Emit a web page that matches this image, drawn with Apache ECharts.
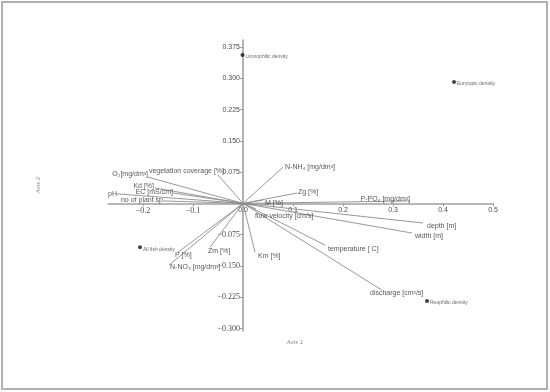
<!DOCTYPE html>
<html><head><meta charset="utf-8">
<script src="https://cdn.jsdelivr.net/npm/echarts@6/dist/echarts.min.js"></script>
<style>html,body{margin:0;padding:0;background:#fff}#c{width:550px;height:392px}</style>
</head><body><div id="c"></div>
<script>
// ---- data ----
const vectorNames = ['vegetation coverage [%]','O₂[mg/dm³]','Kd [%]','EC [mS/cm]','pH','no of plant sp',
  'N-NH₄ [mg/dm³]','Zg [%]','P-PO₄ [mg/dm³]','M [%]','flow velocity [cm/s]','depth [m]','width [m]',
  'temperature [ C]','discharge [cm³/s]','Km [%]','Zm [%]','P [%]','N-NO₃ [mg/dm³]'];
const vectorX = [-0.050,-0.190,-0.176,-0.140,-0.252,-0.160,0.080,0.108,0.334,0.040,0.026,0.360,0.338,0.164,0.278,0.024,-0.066,-0.130,-0.148];
const vectorY = [0.068,0.063,0.037,0.025,0.023,0.006,0.087,0.025,0.006,0.008,-0.013,-0.047,-0.071,-0.100,-0.208,-0.117,-0.105,-0.117,-0.148];
const pointNames = ['Limnophilic density','Eurytopic density','All fish density','Reophilic density'];
const pointX = [-0.001,0.422,-0.206,0.368];
const pointY = [0.356,0.291,-0.105,-0.234];
const xTicks = [-0.2,-0.1,0,0.1,0.2,0.3,0.4,0.5];
const yTicks = [-0.3,-0.225,-0.15,-0.075,0.075,0.15,0.225,0.3,0.375];

// ---- label placement (style only) ----
const place = {
  'vegetation coverage [%]':['right',6,-4],
  'O₂[mg/dm³]':['right',0,-3],
  'Kd [%]':['right',-1,-2],
  'EC [mS/cm]':['right',0,-1],
  'pH':['right',0,0],
  'no of plant sp':['right',0,-1],
  'N-NH₄ [mg/dm³]':['left',2,0],
  'Zg [%]':['left',1,-1],
  'P-PO₄ [mg/dm³]':['right',0,-2],
  'M [%]':['left',2,3],
  'flow velocity [cm/s]':['left',-1,7],
  'depth [m]':['left',4,3],
  'width [m]':['left',3,3],
  'temperature [ C]':['left',3,4],
  'discharge [cm³/s]':['left',-12,3],
  'Km [%]':['left',3,4],
  'Zm [%]':['left',-2,4],
  'P [%]':['left',-3,3],
  'N-NO₃ [mg/dm³]':['left',1,2]
};

const vecLines = vectorNames.map((n,i)=>({coords:[[0,0],[vectorX[i],vectorY[i]]]}));
const vecEnds = vectorNames.map((n,i)=>{
  const p = place[n];
  return {name:n, value:[vectorX[i],vectorY[i]],
    label:{show:true, formatter:n, position:'inside', align:p[0], verticalAlign:'middle', offset:[p[1],p[2]]}};
});
const pts = pointNames.map((n,i)=>({name:n, value:[pointX[i],pointY[i]]}));

function fmt(v, dec){
  if (Math.abs(v) < 1e-9) return dec===1 ? '0.0' : '';
  if (v < 0) return '{n|−' + Math.abs(v).toFixed(dec) + '}';
  return v.toFixed(dec);
}

const G = {left:108, right:57, top:40, bottom:61};
const chart = echarts.init(document.getElementById('c'), null, {renderer:'canvas'});
const axisCommon = (ticks, dec) => ({
  axisTick:{show:true, length:3, customValues:ticks, lineStyle:{color:'#a0a0a0'}},
  axisLabel:{customValues:ticks, formatter:v=>fmt(v,dec), color:'#4a4a4a', fontSize:7, fontFamily:'Liberation Sans', margin:3,
    rich:{n:{fontFamily:'Liberation Serif', fontSize:8, color:'#4a4a4a'}}},
  splitLine:{show:false}
});
chart.setOption({
  animation:false,
  backgroundColor:'#fff',
  grid:G,
  xAxis:Object.assign({type:'value', min:-0.27, max:0.5, position:'bottom', offset:0,
    axisLine:{onZero:false, lineStyle:{color:'#a0a0a0', width:1.6}}}, axisCommon(xTicks,1)),
  yAxis:Object.assign({type:'value', min:-0.306, max:0.392, position:'left', offset:0,
    axisLine:{onZero:false, lineStyle:{color:'#a0a0a0', width:1.6}}}, axisCommon(yTicks,3)),
  graphic:[
    {type:'rect', shape:{x:2, y:2, width:545, height:387}, style:{fill:'none', stroke:'#b0b0b0', lineWidth:2}},
    {type:'text', x:295, y:342, style:{text:'Axis 1', font:'italic 6px Liberation Sans', fill:'#888', textAlign:'center', textVerticalAlign:'middle'}},
    {type:'text', x:38, y:185, rotation:Math.PI/2, style:{text:'Axis 2', font:'italic 6px Liberation Sans', fill:'#888', textAlign:'center', textVerticalAlign:'middle'}}
  ],
  series:[
    {type:'lines', coordinateSystem:'cartesian2d', polyline:false, silent:true,
      lineStyle:{color:'#8c8c8c', width:0.9, opacity:1}, data:vecLines},
    {type:'scatter', symbolSize:0, silent:true, data:vecEnds,
      label:{color:'#2a2a2a', fontSize:7, fontFamily:'Liberation Sans'}},
    {type:'scatter', symbol:'circle', symbolSize:4, itemStyle:{color:'#111'}, silent:true, data:pts,
      label:{show:true, position:'right', distance:1, formatter:'{b}', color:'#444', fontSize:5, fontFamily:'Liberation Sans', offset:[0,2]}}
  ]
});
// move both axes so they cross at the data origin (0,0)
const o = chart.convertToPixel({gridIndex:0}, [0,0]);
chart.setOption({
  xAxis:{offset: -((392 - G.bottom) - o[1])},
  yAxis:{offset: -(o[0] - G.left)}
});
</script></body></html>
